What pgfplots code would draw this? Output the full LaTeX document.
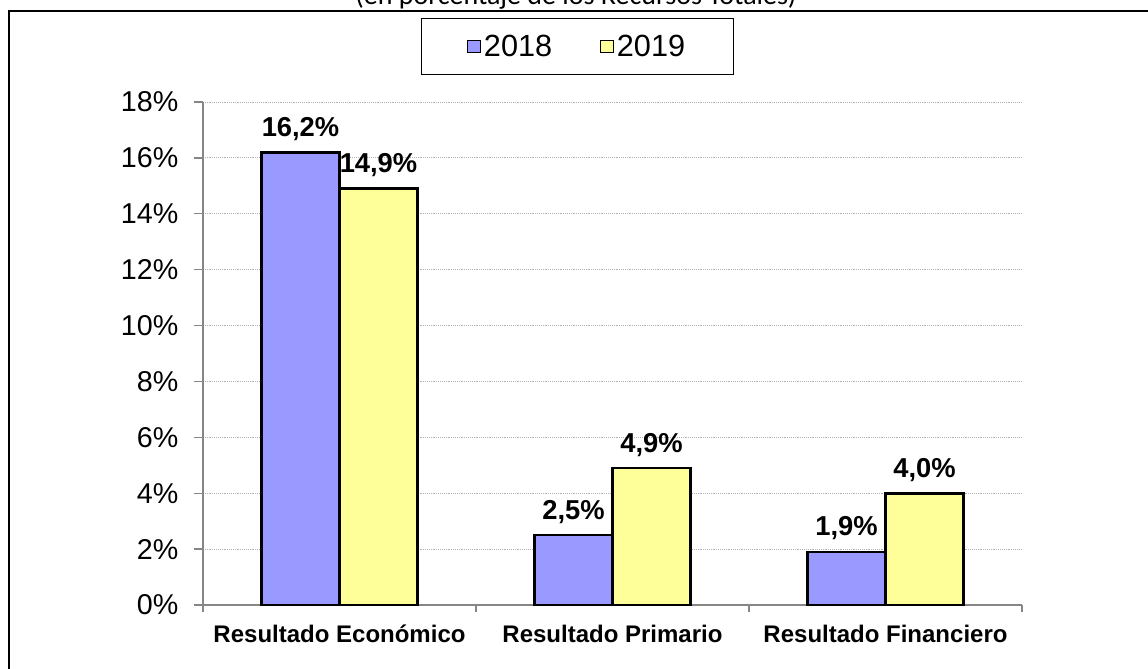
\documentclass[border=0pt]{standalone}
\usepackage{fontspec}
\setmainfont{Liberation Sans}
\newfontfamily\calibri{Carlito}
\usepackage{pgfplots}
\pgfplotsset{compat=1.18}
\definecolor{c2018}{HTML}{9999FF}
\definecolor{c2019}{HTML}{FFFF99}
\definecolor{axgray}{HTML}{868686}
\begin{document}
\begin{tikzpicture}
\begin{axis}[
  at={(152.25pt,47.25pt)}, anchor=south west,
  scale only axis, width=614.25pt, height=377.25pt,
  ybar=0pt, bar width=58.5pt,
  xmin=-0.5, xmax=2.5, ymin=0, ymax=18,
  axis x line*=bottom, axis y line*=left,
  axis line style={axgray, line width=1pt, -},
  xtick={0,1,2},
  xticklabels={Resultado Económico, Resultado Primario, Resultado Financiero},
  minor xtick={-0.5,0.5,1.5,2.5},
  major x tick style={draw=none},
  minor x tick style={axgray, line width=1pt},
  ytick={0,2,...,18},
  ytick style={axgray, line width=1pt},
  tick align=outside,
  major tick length=6.75pt, minor tick length=5.5pt,
  ymajorgrids, grid style={densely dotted, black!30, line width=0.6pt},
  /pgf/number format/assume math mode=true,
  yticklabel={\pgfmathprintnumber{\tick}\%},
  yticklabel style={font=\fontsize{21.5}{25}\selectfont, xshift=-8.25pt},
  xticklabel style={font=\bfseries\fontsize{18}{22}\selectfont, yshift=-5pt},
  nodes near coords={\pgfmathprintnumber[fixed,fixed zerofill,precision=1,use comma]{\pgfplotspointmeta}\%},
  every node near coord/.append style={font=\bfseries\fontsize{20.5}{24}\selectfont, anchor=base, yshift=12pt},
  legend columns=2,
  legend image code/.code={\draw[#1, draw=black, line width=0.8pt] (0pt,-4.5pt) rectangle (9.75pt,4.5pt);},
  legend style={at={(0.4573,1.1103)}, anchor=center, draw=black, line width=0.8pt,
    font=\fontsize{23}{27}\selectfont, inner xsep=34pt, inner ysep=10pt,
    /tikz/every even column/.append style={column sep=34pt}},
]
\addplot[fill=c2018, draw=black, line width=2pt] coordinates {(0,16.2) (1,2.5) (2,1.9)};
\addplot[fill=c2019, draw=black, line width=2pt] coordinates {(0,14.9) (1,4.9) (2,4.0)};
\legend{2018,2019}
\end{axis}
\node[anchor=base, font=\calibri\fontsize{21}{25}\selectfont] at (432pt,497.25pt) {(en porcentaje de los Recursos Totales)};
\draw[line width=1.5pt] (6.75pt,-20pt) -- (6.75pt,492.75pt) -- (880pt,492.75pt);
\pgfresetboundingbox
\path[use as bounding box] (0,0) rectangle (861pt,501pt);
\end{tikzpicture}
\end{document}
